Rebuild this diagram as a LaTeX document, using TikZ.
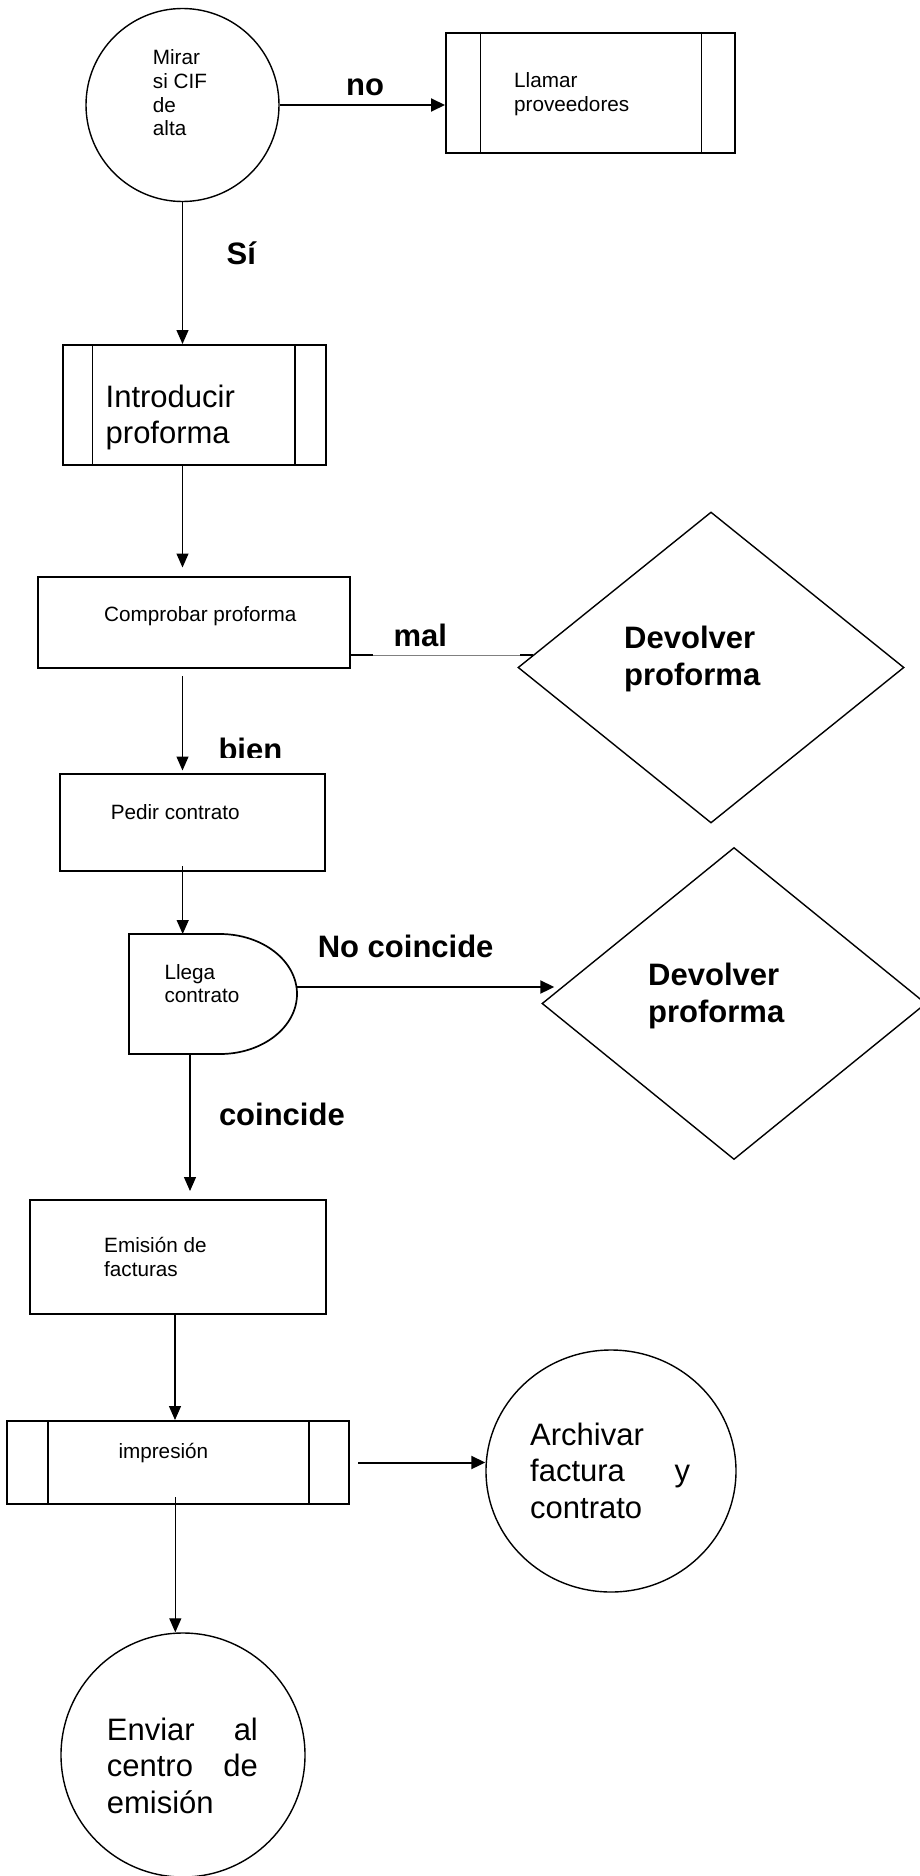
\documentclass[tikz,border=0pt]{standalone}
\usepackage{fontspec}
\setmainfont{Liberation Sans}
\usetikzlibrary{shapes.geometric,arrows.meta,calc}

\begin{document}
\begin{tikzpicture}[x=1pt,y=-1pt,
  procbox/.style={draw, rectangle, line width=2pt, inner sep=0pt},
  roundstep/.style={draw, ellipse, line width=1.4pt, inner sep=0pt},
  decision/.style={draw, diamond, line width=1.4pt, inner sep=0pt},
  sidebar/.style={line width=1.7pt},
  flow/.style={line width=1.3pt, -{Triangle[length=14pt,width=12pt]}},
  flowbold/.style={line width=2pt, -{Triangle[length=14pt,width=13pt]}},
  txtsmall/.style={inner sep=0pt, anchor=base west, font=\fontsize{20.7}{23.6}\selectfont},
  txtlarge/.style={inner sep=0pt, anchor=base west, font=\fontsize{31}{36.8}\selectfont},
  txtlabel/.style={inner sep=0pt, anchor=base west, font=\fontsize{31}{37.8}\selectfont\bfseries},
]
\useasboundingbox (0,0) rectangle (919,1876);
\fill[white] (0,0) rectangle (919,1876);

% ---- shapes ----
\node[roundstep, minimum size=193pt] (mirar) at (182.5,105) {};
\node[procbox, minimum width=289pt, minimum height=120pt] (llamar) at (590.5,93) {};
\draw[sidebar] ([xshift=35.5pt]llamar.north west) -- ([xshift=35.5pt]llamar.south west);
\draw[sidebar] ([xshift=-34.5pt]llamar.north east) -- ([xshift=-34.5pt]llamar.south east);

\node[procbox, minimum width=263.5pt, minimum height=120pt] (intro) at (194.25,405) {};
\draw[sidebar] ([xshift=31pt]intro.north west) -- ([xshift=31pt]intro.south west);
\draw[sidebar] ([xshift=-32pt]intro.north east) -- ([xshift=-32pt]intro.south east);

\node[procbox, minimum width=312pt, minimum height=91pt] (compr) at (194,622.5) {};
\node[decision, minimum width=386pt, minimum height=311pt] (dev1) at (711,667.5) {};
\node[procbox, minimum width=265pt, minimum height=97pt] (pedir) at (192.5,822.5) {};

% delay shape for "Llega contrato"
\draw[line width=1.7pt] (129,934) -- (220,934)
  arc[start angle=-90, end angle=90, x radius=77, y radius=60] -- (129,1054) -- cycle;
\coordinate (llegaN) at (182.7,934);
\coordinate (llegaE) at (297,987);
\coordinate (llegaS) at (190,1054);

\node[decision, minimum width=384pt, minimum height=312pt] (dev2) at (734,1003.5) {};
\node[procbox, minimum width=296pt, minimum height=114pt] (emision) at (178,1257) {};

\node[procbox, minimum width=342pt, minimum height=83pt] (impr) at (178.3,1462.5) {};
\draw[sidebar] ([xshift=42pt]impr.north west) -- ([xshift=42pt]impr.south west);
\draw[sidebar] ([xshift=-41pt]impr.north east) -- ([xshift=-41pt]impr.south east);

\node[roundstep, minimum width=250pt, minimum height=242pt] (arch) at (611,1471) {};
\node[roundstep, minimum size=244pt] (enviar) at (183,1755) {};

% ---- texts inside shapes ----
\node[txtsmall] (mirarT) at (152.7,65) {\parbox[t]{90pt}{Mirar\\si CIF\\de\\alta}};
\node[txtsmall] (llamarT) at (514,87.5) {\parbox[t]{150pt}{Llamar\\proveedores}};
\node[txtlarge] (introT) at (105.5,407) {\parbox[t]{170pt}{Introducir\\proforma}};
\node[txtsmall] (comprT) at (104,621.7) {Comprobar proforma};
\node[txtlabel] (dev1T) at (624,648) {\parbox[t]{200pt}{Devolver\\proforma}};
\node[txtsmall] (pedirT) at (110.6,819.3) {Pedir contrato};
\node[txtsmall] (llegaT) at (164.3,979.3) {\parbox[t]{100pt}{Llega\\contrato}};
\node[txtlabel] (dev2T) at (648,985) {\parbox[t]{200pt}{Devolver\\proforma}};
\node[txtsmall] (emisionT) at (104,1252.3) {\parbox[t]{120pt}{Emisión de\\[1pt]facturas}};
\node[txtsmall] (imprT) at (118.3,1458.3) {impresión};
\node[txtlarge] (archT) at (530,1445) {\parbox[t]{160pt}{Archivar\\\makebox[160pt]{factura\hfill y}\\contrato}};
\node[txtlarge] (enviarT) at (106.7,1740) {\parbox[t]{151pt}{\makebox[151pt]{Enviar\hfill al}\\\makebox[151pt]{centro\hfill de}\\emisión}};

% ---- connectors ----
\draw[flowbold] (mirar.east) -- (mirar.east -| llamar.west);
\draw[flow] (mirar.south) -- (mirar.south |- intro.north);
\draw[flow, shorten >=8.5pt] (intro.south -| mirar.south) -- (compr.north -| mirar.south);

\draw[gray, line width=1pt] (compr.east |- dev1.176.5) -- (dev1.176.5);
\draw[line width=2pt] (compr.east |- dev1.176.5) -- ++(22,0);
\draw[line width=2pt] (dev1.176.5) -- ++(-13,0);

\draw[flow, shorten <=7pt, shorten >=2.5pt] (compr.south -| mirar.south) -- (pedir.north -| mirar.south);
\draw[flow, shorten <=-6pt] (pedir.south -| llegaN) -- (llegaN);
\draw[flowbold] (llegaE) -- ([xshift=13pt]dev2.west |- llegaE);
\draw[flow, shorten >=8pt] (llegaS) -- (llegaS |- emision.north);
\draw[flow] ([xshift=-3pt]emision.south) -- ([xshift=-3pt]emision.south |- impr.north);
\draw[flowbold] ([xshift=8pt]impr.east) -- (impr.east -| arch.west);
\draw[flow, shorten <=-8pt] ([xshift=-3pt]impr.south) -- ([xshift=-3pt]impr.south |- enviar.north);

% ---- connector labels ----
\node[txtlabel] (noL) at (346,95.5) {no};
\node[txtlabel] (siL) at (226.5,264) {Sí};
\node[txtlabel] (malL) at (393.3,646.7) {mal};
\begin{scope}
  \clip (200,700) rectangle (320,757.3);
  \node[txtlabel] (bienL) at (218.3,760) {bien};
\end{scope}
\node[txtlabel] (nocoL) at (317.6,957) {No coincide};
\node[txtlabel] (coL) at (218.8,1125) {coincide};
\end{tikzpicture}
\end{document}
